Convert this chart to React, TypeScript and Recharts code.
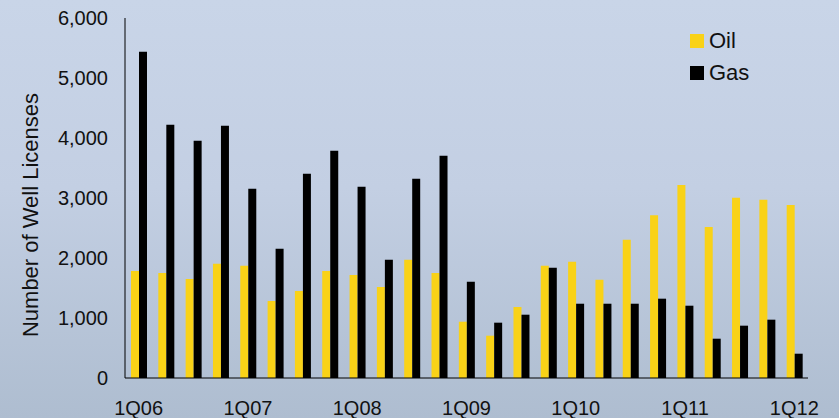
import { BarChart, Bar, XAxis, YAxis, Legend } from 'recharts';

const quarters = [
  '1Q06', '2Q06', '3Q06', '4Q06',
  '1Q07', '2Q07', '3Q07', '4Q07',
  '1Q08', '2Q08', '3Q08', '4Q08',
  '1Q09', '2Q09', '3Q09', '4Q09',
  '1Q10', '2Q10', '3Q10', '4Q10',
  '1Q11', '2Q11', '3Q11', '4Q11',
  '1Q12',
];

const oilLicenses = [
  1783, 1750, 1650, 1905, 1872, 1283, 1450, 1783, 1717, 1517, 1972, 1750,
  938, 705, 1183, 1872, 1938, 1638, 2305, 2712, 3217, 2517, 3005, 2972, 2883,
];

const gasLicenses = [
  5438, 4222, 3955, 4205, 3155, 2155, 3405, 3788, 3188, 1972, 3322, 3705,
  1605, 922, 1055, 1838, 1238, 1238, 1238, 1322, 1205, 655, 872, 972, 405,
];

const yTicks = [0, 1000, 2000, 3000, 4000, 5000, 6000];

const OIL = '#f9d217';
const GAS = '#000000';
const FONT = '"Liberation Sans", Arial, sans-serif';

const data = quarters.map((q, i) => ({
  quarter: q,
  Oil: oilLicenses[i],
  Gas: gasLicenses[i],
}));

function LegendBox() {
  const items = [
    { name: 'Oil', color: OIL },
    { name: 'Gas', color: GAS },
  ];
  return (
    <div style={{ fontFamily: FONT }}>
      {items.map((it) => (
        <div
          key={it.name}
          style={{ display: 'flex', alignItems: 'center', height: 32, fontSize: 22, color: '#111' }}
        >
          <span style={{ width: 14, height: 14, background: it.color, marginRight: 5, display: 'inline-block' }} />
          {it.name}
        </div>
      ))}
    </div>
  );
}

export default function App() {
  return (
    <div
      style={{
        position: 'absolute',
        left: 0,
        top: 0,
        width: 839,
        height: 418,
        overflow: 'hidden',
        background: 'linear-gradient(to bottom, #c9d5e8 0%, #c3cfe3 45%, #aebdd0 100%)',
      }}
    >
      <BarChart
        width={839}
        height={418}
        data={data}
        margin={{ top: 18, right: 31, bottom: 0, left: 0 }}
        barGap={0}
        barSize={8}
      >
        <XAxis
          dataKey="quarter"
          interval={3}
          tickLine={false}
          axisLine={{ stroke: '#000', strokeWidth: 1 }}
          tickMargin={17}
          height={40}
          tick={{ fill: '#111', fontSize: 20, fontFamily: FONT }}
        />
        <YAxis
          domain={[0, 6000]}
          ticks={yTicks}
          width={125}
          tickLine={false}
          axisLine={{ stroke: '#000', strokeWidth: 1 }}
          tickMargin={11}
          tickFormatter={(v) => Number(v).toLocaleString('en-US')}
          tick={{ fill: '#111', fontSize: 20, fontFamily: FONT }}
          label={{
            value: 'Number of Well Licenses',
            angle: -90,
            position: 'center',
            dx: -32,
            dy: 17,
            style: { fill: '#111', fontSize: 22, fontFamily: FONT, textAnchor: 'middle' },
          }}
        />
        <Legend
          layout="vertical"
          verticalAlign="middle"
          align="center"
          content={() => <LegendBox />}
          wrapperStyle={{ top: 25, left: 690, width: 80 }}
        />
        <Bar dataKey="Oil" fill={OIL} isAnimationActive={false} />
        <Bar dataKey="Gas" fill={GAS} isAnimationActive={false} />
      </BarChart>
    </div>
  );
}
